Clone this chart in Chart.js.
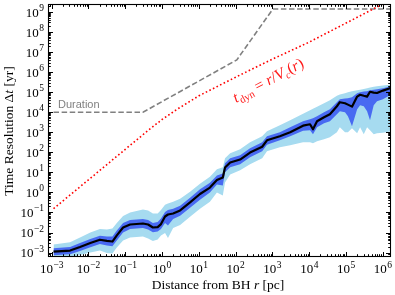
<!DOCTYPE html>
<html><head><meta charset="utf-8">
<script src="https://cdn.jsdelivr.net/npm/chart.js@4/dist/chart.umd.min.js"></script>
<style>html,body{margin:0;padding:0;background:#fff}</style>
</head><body>
<canvas id="c" width="395" height="295"></canvas>
<script>
// ---- data (log10 values) ----
const logR        = [-2.95,-2.50,-2.23,-1.95,-1.69,-1.50,-1.35,-1.23,-1.06,-0.87,-0.52,-0.38,-0.25,-0.12,-0.03,0.08,0.16,0.30,0.49,0.76,1.03,1.30,1.49,1.65,1.71,1.85,2.12,2.39,2.72,2.85,3.20,3.48,3.83,4.02,4.10,4.21,4.40,4.56,4.75,4.83,4.97,5.05,5.16,5.30,5.38,5.48,5.57,5.65,5.75,5.84,6.00,6.19,6.30];
const logMedian   = [-2.95,-2.90,-2.72,-2.52,-2.36,-2.42,-2.45,-2.14,-1.75,-1.60,-1.55,-1.60,-1.75,-1.73,-1.58,-1.20,-1.10,-1.05,-0.90,-0.50,-0.08,0.24,0.62,0.74,1.24,1.49,1.64,1.99,2.28,2.60,2.80,3.00,3.33,3.40,3.15,3.55,3.75,3.90,4.30,4.50,4.45,4.38,4.28,4.78,4.87,4.82,4.78,5.02,4.98,4.96,5.08,5.20,5.25];
const logInnerLow = [-3.13,-3.09,-2.92,-2.73,-2.57,-2.65,-2.68,-2.40,-2.00,-1.83,-1.78,-1.85,-1.99,-1.95,-1.82,-1.52,-1.65,-1.32,-1.17,-0.77,-0.36,0.00,0.40,0.35,1.00,1.25,1.40,1.75,2.05,2.38,2.60,2.80,3.08,3.10,2.90,3.25,3.45,3.55,3.90,4.05,4.00,3.80,3.30,4.15,4.35,4.30,4.05,3.60,4.35,4.55,4.65,4.85,4.95];
const logInnerHigh= [-2.78,-2.72,-2.52,-2.32,-2.16,-2.20,-2.20,-1.90,-1.52,-1.37,-1.32,-1.37,-1.52,-1.48,-1.30,-0.98,-0.88,-0.82,-0.66,-0.26,0.16,0.48,0.85,0.95,1.45,1.70,1.85,2.20,2.50,2.80,3.00,3.25,3.55,3.65,3.70,3.80,4.00,4.15,4.50,4.65,4.68,4.70,4.75,4.95,5.00,5.03,5.05,5.10,5.12,5.15,5.20,5.28,5.32];
const logOuterLow = [-3.30,-3.25,-3.12,-3.00,-2.90,-3.02,-3.05,-2.75,-2.40,-2.25,-2.20,-2.30,-2.42,-2.35,-2.15,-2.02,-2.28,-1.78,-1.62,-1.22,-0.82,-0.47,0.00,-0.15,0.50,0.90,1.10,1.40,1.70,2.05,2.25,2.35,2.50,2.50,2.45,2.55,2.65,2.75,3.00,3.25,3.00,3.00,3.20,2.95,3.25,2.90,3.25,3.10,2.90,2.95,2.98,3.04,3.05];
const logOuterHigh= [-2.60,-2.48,-2.25,-2.00,-1.82,-1.85,-1.80,-1.52,-1.18,-1.00,-0.85,-0.90,-1.05,-1.05,-0.88,-0.62,-0.55,-0.47,-0.32,0.03,0.43,0.78,1.15,1.25,1.70,1.95,2.15,2.50,2.80,3.05,3.35,3.60,3.92,4.10,4.18,4.28,4.45,4.60,4.82,4.88,4.95,5.00,5.05,5.10,5.12,5.16,5.20,5.24,5.27,5.30,5.33,5.37,5.40];
const durationLogR = [-2.95,-0.52,2.03,3.01,6.30];
const durationLogT = [4.00,4.00,6.61,9.15,9.15];
const dynLogR = [-2.95,-2.00,-1.00,-0.40,0.00,0.40,1.00,2.00,3.00,4.00,5.00,6.00,6.30];
const dynLogT = [-0.81,0.63,2.15,3.06,3.64,4.14,4.82,5.75,6.65,7.50,8.45,9.40,9.70];
const xTickExps = [-3,-2,-1,0,1,2,3,4,5,6];
const yTickExps = [-3,-2,-1,0,1,2,3,4,5,6,7,8,9];

const pts = (xs, ys) => xs.map((v, i) => ({x: Math.pow(10, v), y: Math.pow(10, ys[i])}));
const NONE = 'rgba(0,0,0,0)';
const DARK = 'rgb(72,106,242)';
const LIGHT = 'rgb(166,219,240)';
const SERIF = '"Liberation Serif", "DejaVu Serif", serif';

function drawRich(ctx, parts, x, y, align) {
  let total = 0;
  for (const p of parts) { ctx.font = p.font; p.w = ctx.measureText(p.t).width; total += p.w + (p.gap || 0); }
  let sx = align === 'center' ? x - total / 2 : (align === 'right' ? x - total : x);
  ctx.textAlign = 'left'; ctx.textBaseline = 'alphabetic';
  for (const p of parts) { ctx.font = p.font; ctx.fillText(p.t, sx, y + (p.dy || 0)); sx += p.w + (p.gap || 0); }
}
function powParts(e) {
  const es = e < 0 ? '\u2212' + (-e) : String(e);
  return [{t: '10', font: '13px ' + SERIF, gap: 0.5}, {t: es, font: '9.5px ' + SERIF, dy: -5.5}];
}

const decor = {
  id: 'decor',
  afterDraw(chart) {
    const {ctx, chartArea: {left, right, top, bottom}, scales: {x, y}} = chart;
    ctx.save();
    ctx.strokeStyle = '#000'; ctx.lineWidth = 1;
    ctx.beginPath();
    for (let e = -4; e <= 10; e++) {
      for (let m = 1; m < 10; m++) {
        const v = m * Math.pow(10, e);
        const len = m === 1 ? 5 : 2.8;
        const px = Math.round(x.getPixelForValue(v)) + 0.5;
        if (px >= left && px <= right) {
          ctx.moveTo(px, bottom); ctx.lineTo(px, bottom - len);
          ctx.moveTo(px, top); ctx.lineTo(px, top + len);
        }
        const py = Math.round(y.getPixelForValue(v)) + 0.5;
        if (py >= top && py <= bottom) {
          ctx.moveTo(left, py); ctx.lineTo(left + len, py);
          ctx.moveTo(right, py); ctx.lineTo(right - len, py);
        }
      }
    }
    ctx.stroke();
    ctx.lineWidth = 1.1;
    ctx.strokeRect(left + 0.5, top + 0.5, right - left - 1, bottom - top - 1);
    ctx.fillStyle = '#000';
    for (const e of xTickExps) {
      drawRich(ctx, powParts(e), x.getPixelForValue(Math.pow(10, e)), 273, 'center');
    }
    for (const e of yTickExps) {
      drawRich(ctx, powParts(e), 44, y.getPixelForValue(Math.pow(10, e)) + 4.5, 'right');
    }
    // axis titles
    const f = '13.5px ' + SERIF, fi = 'italic 13.5px ' + SERIF;
    drawRich(ctx, [{t: 'Distance from BH ', font: f}, {t: 'r', font: fi}, {t: ' [pc]', font: f}], 218, 289, 'center');
    ctx.save();
    ctx.translate(13, 131); ctx.rotate(-Math.PI / 2);
    drawRich(ctx, [{t: 'Time Resolution \u0394', font: f}, {t: 't', font: fi}, {t: ' [yr]', font: f}], 0, 0, 'center');
    ctx.restore();
    // annotations
    ctx.fillStyle = '#808080';
    ctx.font = '11px "Liberation Sans", Arial, sans-serif';
    ctx.textAlign = 'left';
    ctx.fillText('Duration', 58, 108);
    ctx.fillStyle = '#ff1a1a';
    ctx.save();
    ctx.translate(236, 103); ctx.rotate(-28 * Math.PI / 180);
    const mi = 'italic 15.5px ' + SERIF, mr = '15.5px ' + SERIF, sb = '10.5px ' + SERIF, sbi = 'italic 10.5px ' + SERIF;
    drawRich(ctx, [
      {t: 't', font: mi, gap: 0.5}, {t: 'dyn', font: sb, dy: 3},
      {t: ' = ', font: mr}, {t: 'r', font: mi}, {t: '/', font: mr}, {t: 'V', font: mi},
      {t: 'c', font: sbi, dy: 3}, {t: '(', font: mr}, {t: 'r', font: mi}, {t: ')', font: mr}
    ], 0, 0, 'left');
    ctx.restore();
    ctx.restore();
  }
};

new Chart(document.getElementById('c'), {
  type: 'line',
  data: {
    datasets: [
      {label: 'median', data: pts(logR, logMedian), borderColor: '#000', borderWidth: 2.2, pointRadius: 0, fill: false, order: 0, borderJoinStyle: 'round'},
      {label: 'tdyn', data: pts(dynLogR, dynLogT), borderColor: '#ff0000', borderWidth: 1.6, borderDash: [1.6, 2.4], pointRadius: 0, fill: false, order: 1},
      {label: 'duration', data: pts(durationLogR, durationLogT), borderColor: '#808080', borderWidth: 1.6, borderDash: [5.5, 2.6], pointRadius: 0, fill: false, order: 2},
      {label: 'innerHigh', data: pts(logR, logInnerHigh), borderColor: NONE, borderWidth: 0, backgroundColor: DARK, pointRadius: 0, fill: 4, order: 3},
      {label: 'innerLow', data: pts(logR, logInnerLow), borderColor: NONE, borderWidth: 0, pointRadius: 0, fill: false, order: 4},
      {label: 'outerHigh', data: pts(logR, logOuterHigh), borderColor: NONE, borderWidth: 0, backgroundColor: LIGHT, pointRadius: 0, fill: 6, order: 5},
      {label: 'outerLow', data: pts(logR, logOuterLow), borderColor: NONE, borderWidth: 0, pointRadius: 0, fill: false, order: 6}
    ]
  },
  options: {
    responsive: false, animation: false, devicePixelRatio: 1,
    layout: {padding: {top: 4, right: 4, left: 0, bottom: 0}},
    plugins: {legend: {display: false}, tooltip: {enabled: false}},
    scales: {
      x: {type: 'logarithmic', min: Math.pow(10, -3.10), max: Math.pow(10, 6.22),
          ticks: {display: false}, grid: {display: false}, border: {display: false},
          afterFit: s => { s.height = 38; }},
      y: {type: 'logarithmic', min: Math.pow(10, -3.19), max: Math.pow(10, 9.40),
          ticks: {display: false}, grid: {display: false}, border: {display: false},
          afterFit: s => { s.width = 48; }}
    }
  },
  plugins: [decor]
});
</script>
</body></html>
